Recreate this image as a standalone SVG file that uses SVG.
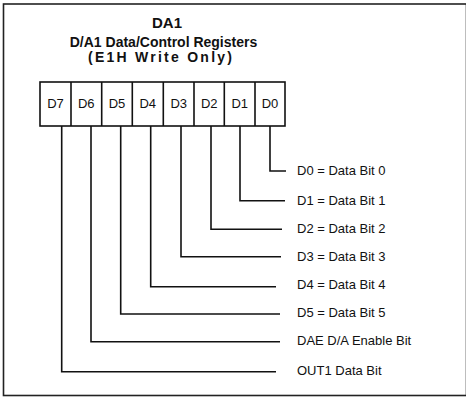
<svg xmlns="http://www.w3.org/2000/svg" width="466" height="397" viewBox="0 0 466 397">
<style>
.t{font-family:"Liberation Sans",Arial,sans-serif;font-weight:bold;font-size:14px;fill:#111;text-anchor:middle}
.c{font-family:"Liberation Sans",Arial,sans-serif;font-size:13px;fill:#111;text-anchor:middle}
.l{font-family:"Liberation Sans",Arial,sans-serif;font-size:13px;fill:#111}
.ln{fill:none;stroke:#111;stroke-width:1.6}
.bx{fill:#fff;stroke:#111;stroke-width:1.6}
</style>
<rect x="3.5" y="4" width="463" height="391.5" fill="#fff" stroke="#222" stroke-width="1.6"/>
<g id="title">
<text class="t" x="167" y="28" style="font-size:15px">DA1</text>
<text class="t" x="163.5" y="46.5">D/A1 Data/Control Registers</text>
<text class="t" x="160" y="62" textLength="144" lengthAdjust="spacing">(E1H  Write Only)</text>
</g>
<g id="register">
<rect class="bx" x="40" y="82" width="245" height="44"/>
<path class="ln" d="M71 82V126M101.7 82V126M132.3 82V126M163.3 82V126M194 82V126M224.3 82V126M255 82V126"/>
<text class="c" x="55.5" y="108">D7</text>
<text class="c" x="86.3" y="108">D6</text>
<text class="c" x="117" y="108">D5</text>
<text class="c" x="147.8" y="108">D4</text>
<text class="c" x="178.7" y="108">D3</text>
<text class="c" x="209.2" y="108">D2</text>
<text class="c" x="239.7" y="108">D1</text>
<text class="c" x="270" y="108">D0</text>
</g>
<g id="connectors">
<path class="ln" d="M270 126V171H286"/>
<path class="ln" d="M240 126V200.7H285"/>
<path class="ln" d="M211 126V229.3H282"/>
<path class="ln" d="M181 126V256.7H281"/>
<path class="ln" d="M150.7 126V286.7H276"/>
<path class="ln" d="M120.7 126V314H280"/>
<path class="ln" d="M91 126V341.7H280"/>
<path class="ln" d="M61.7 126V371.7H276"/>
</g>
<g id="labels">
<text class="l" x="297" y="175">D0 = Data Bit 0</text>
<text class="l" x="297" y="204.5">D1 = Data Bit 1</text>
<text class="l" x="297" y="233">D2 = Data Bit 2</text>
<text class="l" x="297" y="260.5">D3 = Data Bit 3</text>
<text class="l" x="297" y="289">D4 = Data Bit 4</text>
<text class="l" x="297" y="317">D5 = Data Bit 5</text>
<text class="l" x="297" y="345">DAE D/A Enable Bit</text>
<text class="l" x="297" y="374.5">OUT1 Data Bit</text>
</g>
</svg>
